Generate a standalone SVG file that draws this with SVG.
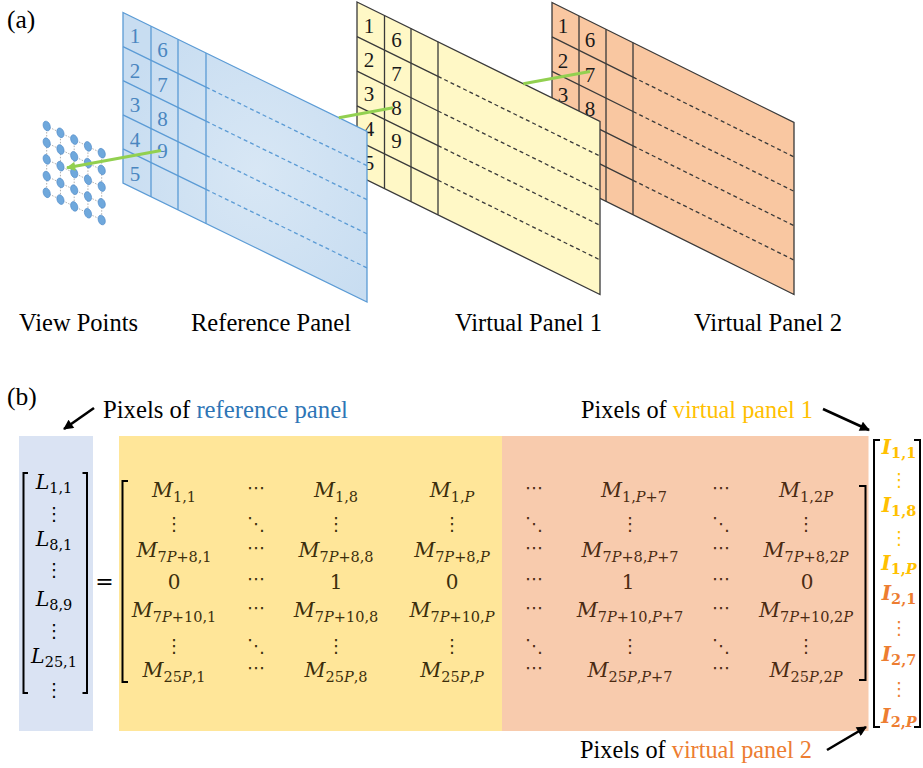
<svg xmlns="http://www.w3.org/2000/svg" width="923" height="768" viewBox="0 0 923 768">
<defs>
<style>
.lbl{font-family:'Liberation Serif','Times New Roman',serif;font-size:25.5px;fill:#000}
.num{font-family:'Liberation Serif','Times New Roman',serif;font-size:21px}
.nb{fill:#4a86c0}
.nk{fill:#1a1a1a}
.mi{font-family:'DejaVu Serif',serif;font-style:italic;font-size:20.5px}
.ib{font-family:'DejaVu Serif',serif;font-style:italic;font-weight:bold;font-size:20px}
.up{font-family:'DejaVu Serif',serif;font-size:20px}
.sub{font-size:14.5px;font-style:normal}
.ip{font-style:italic}
.dt{font-family:'DejaVu Sans',sans-serif;font-size:18px}
.ty{fill:#3b2e0c}
.to{fill:#4a2a12}
.gold{fill:#ffc000}
.orn{fill:#ed7d31}
.pb{fill:url(#gblue);stroke:#5b9bd5;stroke-width:1.3}
.py{fill:#fff8c6;stroke:#3a3a3a;stroke-width:1.3}
.po{fill:#f9c7a1;stroke:#3a3a3a;stroke-width:1.3}
.gb{stroke:#5b9bd5;stroke-width:1.3;fill:none}
.gk{stroke:#3a3a3a;stroke-width:1.3;fill:none}
.dsh{stroke-dasharray:4 3}
.mesh{stroke:#9a9a9a;stroke-width:0.8;stroke-dasharray:1.5 1.5;fill:none}
.dot{fill:#6fa8dc;stroke:#4f8ac9;stroke-width:0.6}
.ray{stroke:#92d050;stroke-width:3;fill:none}
.arr{stroke:#000;stroke-width:2.6;fill:none}
.brk{fill:none;stroke:#000;stroke-width:2}
</style>
<radialGradient id="gblue" cx="0.55" cy="0.55" r="0.6">
<stop offset="0" stop-color="#d8e7f5"/>
<stop offset="1" stop-color="#c8ddf1"/>
</radialGradient>
<marker id="ahg" viewBox="0 0 10 10" refX="9" refY="5" markerWidth="10" markerHeight="9" markerUnits="userSpaceOnUse" orient="auto"><path d="M0,0 L10,5 L0,10 z" fill="#92d050"/></marker>
<marker id="ahk" viewBox="0 0 10 10" refX="9" refY="5" markerWidth="12" markerHeight="10" markerUnits="userSpaceOnUse" orient="auto"><path d="M0,0 L10,5 L0,10 z" fill="#000"/></marker>
</defs>
<rect width="923" height="768" fill="#fff"/>

<text class="lbl" x="7" y="28">(a)</text>

<g id="virtual-panel-2">
<polygon class="po" points="552,2.5 794,122.5 794,294.5 552,174.5"/>
<path class="gk" d="M579,15.9V187.9M606,29.3V201.3M633,42.7V214.7"/>
<path class="gk" d="M552,36.9L633,77.1M552,71.3L633,111.5M552,105.7L633,145.9M552,140.1L633,180.3"/>
<path class="gk dsh" d="M633,77.1L794,156.9M633,111.5L794,191.3M633,145.9L794,225.7M633,180.3L794,260.1"/>
<text class="num nk" x="563" y="33" text-anchor="middle">1</text>
<text class="num nk" x="563" y="67.5" text-anchor="middle">2</text>
<text class="num nk" x="563" y="101.5" text-anchor="middle">3</text>
<text class="num nk" x="590" y="47" text-anchor="middle">6</text>
<text class="num nk" x="590" y="81.5" text-anchor="middle">7</text>
<text class="num nk" x="590" y="115.5" text-anchor="middle">8</text>
</g>

<g id="virtual-panel-1">
<polygon class="py" points="357,2 600,121.5 600,294.5 357,175"/>
<path class="gk" d="M384.5,15.5V188.5M411,28.6V201.6M438,41.8V214.8"/>
<path class="gk" d="M357,36.6L438,76.4M357,71.2L438,111M357,105.8L438,145.6M357,140.4L438,180.2"/>
<path class="gk dsh" d="M438,76.4L600,156.1M438,111L600,190.7M438,145.6L600,225.3M438,180.2L600,259.9"/>
<text class="num nk" x="369" y="32.5" text-anchor="middle">1</text>
<text class="num nk" x="369" y="67" text-anchor="middle">2</text>
<text class="num nk" x="369" y="101" text-anchor="middle">3</text>
<text class="num nk" x="369" y="136" text-anchor="middle">4</text>
<text class="num nk" x="369" y="170" text-anchor="middle">5</text>
<text class="num nk" x="396.5" y="46.5" text-anchor="middle">6</text>
<text class="num nk" x="396.5" y="81" text-anchor="middle">7</text>
<text class="num nk" x="396.5" y="115" text-anchor="middle">8</text>
<text class="num nk" x="396.5" y="147.5" text-anchor="middle">9</text>
</g>

<g id="reference-panel">
<polygon class="pb" points="123,12.5 367,131.5 367,302 123,183"/>
<path class="gb" d="M151,26.2V196.7M178,39.3V209.8M206,53V223.5"/>
<path class="gb" d="M123,46.6L206,87.1M123,80.7L206,121.2M123,114.8L206,155.3M123,148.9L206,189.4"/>
<path class="gb dsh" d="M206,87.1L367,165.6M206,121.2L367,199.7M206,155.3L367,233.8M206,189.4L367,267.9"/>
<text class="num nb" x="135" y="43" text-anchor="middle">1</text>
<text class="num nb" x="135" y="77.5" text-anchor="middle">2</text>
<text class="num nb" x="135" y="111.5" text-anchor="middle">3</text>
<text class="num nb" x="135" y="146.5" text-anchor="middle">4</text>
<text class="num nb" x="135" y="180.5" text-anchor="middle">5</text>
<text class="num nb" x="162.5" y="57" text-anchor="middle">6</text>
<text class="num nb" x="162.5" y="91.5" text-anchor="middle">7</text>
<text class="num nb" x="162.5" y="125.5" text-anchor="middle">8</text>
<text class="num nb" x="162.5" y="158" text-anchor="middle">9</text>
</g>

<g id="view-points">
<path class="mesh" d="M46.7,126V192.8M60.45,132.8V199.6M74.2,139.6V206.4M87.95,146.4V213.2M101.7,153.2V220
M46.7,126L101.7,153.2M46.7,142.7L101.7,169.9M46.7,159.4L101.7,186.6M46.7,176.1L101.7,203.3M46.7,192.8L101.7,220"/>
<g class="dot">
<ellipse cx="46.7" cy="126" rx="3.4" ry="5" transform="rotate(-20 46.7 126)"/>
<ellipse cx="46.7" cy="142.7" rx="3.4" ry="5" transform="rotate(-20 46.7 142.7)"/>
<ellipse cx="46.7" cy="159.4" rx="3.4" ry="5" transform="rotate(-20 46.7 159.4)"/>
<ellipse cx="46.7" cy="176.1" rx="3.4" ry="5" transform="rotate(-20 46.7 176.1)"/>
<ellipse cx="46.7" cy="192.8" rx="3.4" ry="5" transform="rotate(-20 46.7 192.8)"/>
<ellipse cx="60.45" cy="132.8" rx="3.4" ry="5" transform="rotate(-20 60.45 132.8)"/>
<ellipse cx="60.45" cy="149.5" rx="3.4" ry="5" transform="rotate(-20 60.45 149.5)"/>
<ellipse cx="60.45" cy="166.2" rx="3.4" ry="5" transform="rotate(-20 60.45 166.2)"/>
<ellipse cx="60.45" cy="182.9" rx="3.4" ry="5" transform="rotate(-20 60.45 182.9)"/>
<ellipse cx="60.45" cy="199.6" rx="3.4" ry="5" transform="rotate(-20 60.45 199.6)"/>
<ellipse cx="74.2" cy="139.6" rx="3.4" ry="5" transform="rotate(-20 74.2 139.6)"/>
<ellipse cx="74.2" cy="156.3" rx="3.4" ry="5" transform="rotate(-20 74.2 156.3)"/>
<ellipse cx="74.2" cy="173" rx="3.4" ry="5" transform="rotate(-20 74.2 173)"/>
<ellipse cx="74.2" cy="189.7" rx="3.4" ry="5" transform="rotate(-20 74.2 189.7)"/>
<ellipse cx="74.2" cy="206.4" rx="3.4" ry="5" transform="rotate(-20 74.2 206.4)"/>
<ellipse cx="87.95" cy="146.4" rx="3.4" ry="5" transform="rotate(-20 87.95 146.4)"/>
<ellipse cx="87.95" cy="163.1" rx="3.4" ry="5" transform="rotate(-20 87.95 163.1)"/>
<ellipse cx="87.95" cy="179.8" rx="3.4" ry="5" transform="rotate(-20 87.95 179.8)"/>
<ellipse cx="87.95" cy="196.5" rx="3.4" ry="5" transform="rotate(-20 87.95 196.5)"/>
<ellipse cx="87.95" cy="213.2" rx="3.4" ry="5" transform="rotate(-20 87.95 213.2)"/>
<ellipse cx="101.7" cy="153.2" rx="3.4" ry="5" transform="rotate(-20 101.7 153.2)"/>
<ellipse cx="101.7" cy="169.9" rx="3.4" ry="5" transform="rotate(-20 101.7 169.9)"/>
<ellipse cx="101.7" cy="186.6" rx="3.4" ry="5" transform="rotate(-20 101.7 186.6)"/>
<ellipse cx="101.7" cy="203.3" rx="3.4" ry="5" transform="rotate(-20 101.7 203.3)"/>
<ellipse cx="101.7" cy="220" rx="3.4" ry="5" transform="rotate(-20 101.7 220)"/>
</g>
</g>

<g id="panel-labels">
<text class="lbl" x="19" y="331" textLength="119" lengthAdjust="spacingAndGlyphs">View Points</text>
<text class="lbl" x="191" y="331" textLength="160" lengthAdjust="spacingAndGlyphs">Reference Panel</text>
<text class="lbl" x="455" y="331" textLength="147" lengthAdjust="spacingAndGlyphs">Virtual Panel 1</text>
<text class="lbl" x="694" y="331" textLength="148" lengthAdjust="spacingAndGlyphs">Virtual Panel 2</text>
</g>

<text class="lbl" x="7" y="405">(b)</text>

<g id="box-reference">
<rect x="19" y="436" width="74" height="295" fill="#dae3f3"/>
</g>
<g id="box-virtual-1">
<rect x="119" y="436" width="383" height="295" fill="#ffe699"/>
</g>
<g id="box-virtual-2">
<rect x="502" y="436" width="366.5" height="295" fill="#f8cbad"/>
</g>

<g id="vector-L">
<path class="brk" d="M28,473H23.5V693H28M82.5,473H87V693H82.5"/>
<text class="mi" x="54" y="489" text-anchor="middle">L<tspan class="sub" dy="4">1,1</tspan></text>
<text class="dt" x="54" y="520" text-anchor="middle">⋮</text>
<text class="mi" x="54" y="546" text-anchor="middle">L<tspan class="sub" dy="4">8,1</tspan></text>
<text class="dt" x="54" y="576" text-anchor="middle">⋮</text>
<text class="mi" x="54" y="606" text-anchor="middle">L<tspan class="sub" dy="4">8,9</tspan></text>
<text class="dt" x="54" y="637" text-anchor="middle">⋮</text>
<text class="mi" x="54" y="663" text-anchor="middle">L<tspan class="sub" dy="4">25,1</tspan></text>
<text class="dt" x="54" y="696" text-anchor="middle">⋮</text>
</g>

<text class="up" x="104.5" y="589" text-anchor="middle" style="font-size:22px">=</text>

<g id="matrix-M">
<path class="brk" d="M128,481H122.5V682H128" stroke="#3b2e0c"/>
<path class="brk" d="M859,486H865.5V680H859" stroke="#4a2a12"/>
<text class="mi ty" x="174" y="497" text-anchor="middle">M<tspan class="sub" dy="5">1,1</tspan></text>
<text class="dt ty" x="256" y="494" text-anchor="middle">⋯</text>
<text class="mi ty" x="336" y="497" text-anchor="middle">M<tspan class="sub" dy="5">1,8</tspan></text>
<text class="mi ty" x="452" y="497" text-anchor="middle">M<tspan class="sub" dy="5">1,<tspan class="ip">P</tspan></tspan></text>
<text class="dt to" x="534" y="494" text-anchor="middle">⋯</text>
<text class="mi to" x="634" y="497" text-anchor="middle">M<tspan class="sub" dy="5">1,<tspan class="ip">P</tspan>+7</tspan></text>
<text class="dt to" x="721" y="494" text-anchor="middle">⋯</text>
<text class="mi to" x="806" y="497" text-anchor="middle">M<tspan class="sub" dy="5">1,2<tspan class="ip">P</tspan></tspan></text>

<text class="dt ty" x="174" y="530" text-anchor="middle">⋮</text>
<text class="dt ty" x="256" y="530" text-anchor="middle">⋱</text>
<text class="dt ty" x="336" y="530" text-anchor="middle">⋮</text>
<text class="dt ty" x="452" y="530" text-anchor="middle">⋮</text>
<text class="dt to" x="534" y="530" text-anchor="middle">⋱</text>
<text class="dt to" x="630" y="530" text-anchor="middle">⋮</text>
<text class="dt to" x="721" y="530" text-anchor="middle">⋱</text>
<text class="dt to" x="806" y="530" text-anchor="middle">⋮</text>

<text class="mi ty" x="174" y="557" text-anchor="middle">M<tspan class="sub" dy="5">7<tspan class="ip">P</tspan>+8,1</tspan></text>
<text class="dt ty" x="256" y="554" text-anchor="middle">⋯</text>
<text class="mi ty" x="336" y="557" text-anchor="middle">M<tspan class="sub" dy="5">7<tspan class="ip">P</tspan>+8,8</tspan></text>
<text class="mi ty" x="452" y="557" text-anchor="middle">M<tspan class="sub" dy="5">7<tspan class="ip">P</tspan>+8,<tspan class="ip">P</tspan></tspan></text>
<text class="dt to" x="534" y="554" text-anchor="middle">⋯</text>
<text class="mi to" x="630" y="557" text-anchor="middle">M<tspan class="sub" dy="5">7<tspan class="ip">P</tspan>+8,<tspan class="ip">P</tspan>+7</tspan></text>
<text class="dt to" x="721" y="554" text-anchor="middle">⋯</text>
<text class="mi to" x="806" y="557" text-anchor="middle">M<tspan class="sub" dy="5">7<tspan class="ip">P</tspan>+8,2<tspan class="ip">P</tspan></tspan></text>

<text class="up ty" x="174" y="589" text-anchor="middle">0</text>
<text class="dt ty" x="256" y="585" text-anchor="middle">⋯</text>
<text class="up ty" x="336" y="589" text-anchor="middle">1</text>
<text class="up ty" x="452" y="589" text-anchor="middle">0</text>
<text class="dt to" x="534" y="585" text-anchor="middle">⋯</text>
<text class="up to" x="628" y="589" text-anchor="middle">1</text>
<text class="dt to" x="721" y="585" text-anchor="middle">⋯</text>
<text class="up to" x="807" y="589" text-anchor="middle">0</text>

<text class="mi ty" x="174" y="617" text-anchor="middle">M<tspan class="sub" dy="5">7<tspan class="ip">P</tspan>+10,1</tspan></text>
<text class="dt ty" x="256" y="614" text-anchor="middle">⋯</text>
<text class="mi ty" x="336" y="617" text-anchor="middle">M<tspan class="sub" dy="5">7<tspan class="ip">P</tspan>+10,8</tspan></text>
<text class="mi ty" x="452" y="617" text-anchor="middle">M<tspan class="sub" dy="5">7<tspan class="ip">P</tspan>+10,<tspan class="ip">P</tspan></tspan></text>
<text class="dt to" x="534" y="614" text-anchor="middle">⋯</text>
<text class="mi to" x="630" y="617" text-anchor="middle">M<tspan class="sub" dy="5">7<tspan class="ip">P</tspan>+10,<tspan class="ip">P</tspan>+7</tspan></text>
<text class="dt to" x="721" y="614" text-anchor="middle">⋯</text>
<text class="mi to" x="806" y="617" text-anchor="middle">M<tspan class="sub" dy="5">7<tspan class="ip">P</tspan>+10,2<tspan class="ip">P</tspan></tspan></text>

<text class="dt ty" x="174" y="652" text-anchor="middle">⋮</text>
<text class="dt ty" x="256" y="652" text-anchor="middle">⋱</text>
<text class="dt ty" x="336" y="652" text-anchor="middle">⋮</text>
<text class="dt ty" x="452" y="652" text-anchor="middle">⋮</text>
<text class="dt to" x="534" y="652" text-anchor="middle">⋱</text>
<text class="dt to" x="630" y="652" text-anchor="middle">⋮</text>
<text class="dt to" x="721" y="652" text-anchor="middle">⋱</text>
<text class="dt to" x="806" y="652" text-anchor="middle">⋮</text>

<text class="mi ty" x="174" y="677" text-anchor="middle">M<tspan class="sub" dy="5">25<tspan class="ip">P</tspan>,1</tspan></text>
<text class="dt ty" x="256" y="674" text-anchor="middle">⋯</text>
<text class="mi ty" x="336" y="677" text-anchor="middle">M<tspan class="sub" dy="5">25<tspan class="ip">P</tspan>,8</tspan></text>
<text class="mi ty" x="452" y="677" text-anchor="middle">M<tspan class="sub" dy="5">25<tspan class="ip">P</tspan>,<tspan class="ip">P</tspan></tspan></text>
<text class="dt to" x="534" y="674" text-anchor="middle">⋯</text>
<text class="mi to" x="630" y="677" text-anchor="middle">M<tspan class="sub" dy="5">25<tspan class="ip">P</tspan>,<tspan class="ip">P</tspan>+7</tspan></text>
<text class="dt to" x="721" y="674" text-anchor="middle">⋯</text>
<text class="mi to" x="806" y="677" text-anchor="middle">M<tspan class="sub" dy="5">25<tspan class="ip">P</tspan>,2<tspan class="ip">P</tspan></tspan></text>
</g>

<g id="vector-I">
<path class="brk" d="M880,440H874V727H880M914,440H920V727H914"/>
<text class="ib gold" x="899" y="454" text-anchor="middle">I<tspan class="sub" dy="4">1,1</tspan></text>
<text class="dt gold" x="899" y="486" text-anchor="middle">⋮</text>
<text class="ib gold" x="899" y="512" text-anchor="middle">I<tspan class="sub" dy="4">1,8</tspan></text>
<text class="dt gold" x="899" y="544" text-anchor="middle">⋮</text>
<text class="ib gold" x="899" y="570" text-anchor="middle">I<tspan class="sub" dy="4">1,<tspan class="ip">P</tspan></tspan></text>
<text class="ib orn" x="899" y="600" text-anchor="middle">I<tspan class="sub" dy="4">2,1</tspan></text>
<text class="dt orn" x="899" y="634" text-anchor="middle">⋮</text>
<text class="ib orn" x="899" y="661" text-anchor="middle">I<tspan class="sub" dy="4">2,7</tspan></text>
<text class="dt orn" x="899" y="695" text-anchor="middle">⋮</text>
<text class="ib orn" x="899" y="723" text-anchor="middle">I<tspan class="sub" dy="4">2,<tspan class="ip">P</tspan></tspan></text>
</g>

<g id="annotations">
<text class="lbl" x="103" y="418" textLength="245" lengthAdjust="spacingAndGlyphs">Pixels of <tspan fill="#2e75b6">reference panel</tspan></text>
<text class="lbl" x="813" y="418" text-anchor="end" textLength="232" lengthAdjust="spacingAndGlyphs">Pixels of <tspan fill="#ffc000">virtual panel 1</tspan></text>
<text class="lbl" x="812" y="758" text-anchor="end" textLength="232" lengthAdjust="spacingAndGlyphs">Pixels of <tspan fill="#ed7d31">virtual panel 2</tspan></text>
</g>

<g id="connectors">
<line class="ray" x1="161" y1="150.5" x2="67" y2="167.8" marker-end="url(#ahg)"/>
<line class="ray" x1="338.8" y1="117.7" x2="393" y2="107.8"/>
<line class="ray" x1="523.3" y1="83.8" x2="590" y2="71.5"/>
<line class="arr" x1="94" y1="408" x2="64" y2="429" marker-end="url(#ahk)"/>
<line class="arr" x1="823" y1="409" x2="869" y2="430" marker-end="url(#ahk)"/>
<line class="arr" x1="827" y1="750" x2="866" y2="727" marker-end="url(#ahk)"/>
</g>
</svg>
